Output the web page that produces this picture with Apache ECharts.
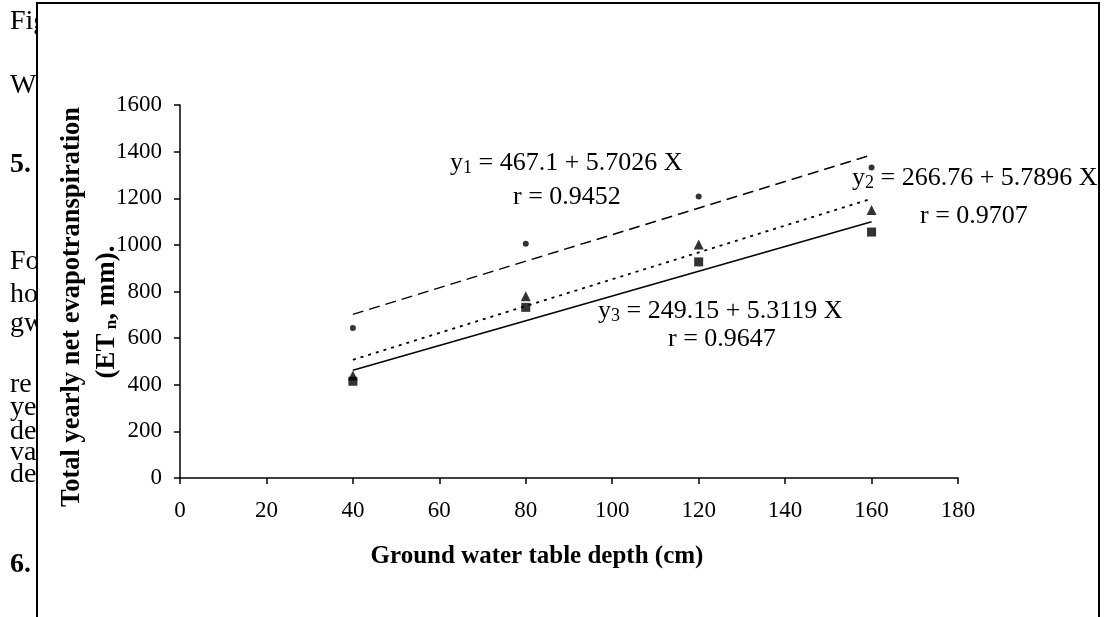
<!DOCTYPE html>
<html>
<head>
<meta charset="utf-8">
<script src="https://cdn.jsdelivr.net/npm/echarts@6/dist/echarts.min.js"></script>
<style>
  html, body { margin: 0; padding: 0; background: #fff; }
  #main { width: 1104px; height: 617px; }
</style>
</head>
<body>
<div id="main"></div>
<script>
// depth (cm)
var depths = [40, 80, 120, 160];
// measured ETn (mm) for the three treatments
var etCircle = [643, 1005, 1207, 1332];
var etTriangle = [440, 780, 1002, 1150];
var etSquare = [415, 732, 927, 1055];
// fitted lines, end points
var trendX = [40, 160];
var trend1 = [702, 1386];
var trend2 = [507, 1198];
var trend3 = [462, 1099];
var xTicks = [0, 20, 40, 60, 80, 100, 120, 140, 160, 180];
var yTicks = [0, 200, 400, 600, 800, 1000, 1200, 1400, 1600];

function pairs(xs, ys) {
  return xs.map(function (x, i) { return [x, ys[i]]; });
}

var serif = 'Liberation Serif';
var chart = echarts.init(document.getElementById('main'));

// bits of the page text that sit behind the figure frame
var pageBits = [
  ['Fig', 23, false], ['Wh', 87, false], ['5.', 166, true],
  ['Fo', 263, false], ['ho', 296, false], ['gw', 325, false],
  ['re', 386, false], ['ye', 409, false], ['de', 433, false],
  ['va', 454, false], ['de', 476, false], ['6.', 566, true]
];
var graphics = pageBits.map(function (b) {
  return {
    type: 'text', left: 10, top: b[1] - 15, z: 0,
    style: { text: b[0], font: (b[2] ? 'bold ' : '') + '28px "' + serif + '"', fill: '#000' }
  };
});
graphics.push({
  type: 'rect', z: 1,
  shape: { x: 37, y: 3, width: 1062, height: 640 },
  style: { fill: '#fff', stroke: '#000', lineWidth: 2 }
});

function eqText(x, y, sub, rest) {
  return {
    type: 'text', x: x, y: y, z: 20,
    style: {
      text: '{a|y}{s|' + sub + '}{a|' + rest + '}',
      fill: '#000',
      verticalAlign: 'middle',
      rich: {
        a: { fontFamily: serif, fontSize: 26, color: '#000' },
        s: { fontFamily: serif, fontSize: 18, color: '#000', padding: [10, 0, 0, 0] }
      }
    }
  };
}
function plain(x, y, txt) {
  return {
    type: 'text', x: x, y: y, z: 20,
    style: { text: txt, font: '26px "' + serif + '"', fill: '#000', verticalAlign: 'middle' }
  };
}
graphics.push(eqText(450, 163, '1', ' = 467.1 + 5.7026 X'));
graphics.push(plain(513, 197, 'r = 0.9452'));
graphics.push(eqText(852, 178, '2', ' = 266.76 + 5.7896 X'));
graphics.push(plain(920, 216, 'r = 0.9707'));
graphics.push(eqText(598, 311, '3', ' = 249.15 + 5.3119 X'));
graphics.push(plain(668, 339, 'r = 0.9647'));

// y axis title, two rotated lines
graphics.push({
  type: 'text', x: 72, y: 307, rotation: Math.PI / 2, z: 20,
  style: {
    text: 'Total yearly net evapotranspiration',
    font: 'bold 26.5px "' + serif + '"', fill: '#000',
    align: 'center', verticalAlign: 'middle'
  }
});
graphics.push({
  type: 'text', x: 107, y: 312, rotation: Math.PI / 2, z: 20,
  style: {
    text: '{b|(ET}{s| n}{b|, mm).}',
    align: 'center', verticalAlign: 'middle',
    rich: {
      b: { fontFamily: serif, fontWeight: 'bold', fontSize: 27, color: '#000' },
      s: { fontFamily: serif, fontWeight: 'bold', fontSize: 17, color: '#000', padding: [10, 0, 0, 0] }
    }
  }
});
graphics.push({
  type: 'text', x: 537, y: 557, z: 20,
  style: {
    text: 'Ground water table depth (cm)',
    font: 'bold 25px "' + serif + '"', fill: '#000',
    align: 'center', verticalAlign: 'middle'
  }
});

var axisCommon = {
  type: 'value',
  z: 10,
  axisLine: { show: true, lineStyle: { color: '#000', width: 1.5 } },
  axisTick: { show: true, inside: false, length: 6, lineStyle: { color: '#000', width: 1.5 } },
  splitLine: { show: false },
  axisLabel: { fontFamily: serif, fontSize: 23, color: '#000', formatter: function (v) { return String(v); } }
};

chart.setOption({
  animation: false,
  backgroundColor: '#fff',
  graphic: { elements: graphics },
  grid: { left: 180, right: 146, top: 105, bottom: 139 },
  xAxis: Object.assign({}, axisCommon, {
    min: xTicks[0], max: xTicks[xTicks.length - 1], interval: 20,
    axisLabel: Object.assign({}, axisCommon.axisLabel, { margin: 21 })
  }),
  yAxis: Object.assign({}, axisCommon, {
    min: yTicks[0], max: yTicks[yTicks.length - 1], interval: 200,
    axisLabel: Object.assign({}, axisCommon.axisLabel, { margin: 18 })
  }),
  series: [
    {
      type: 'line', z: 10, data: pairs(trendX, trend1), symbol: 'none',
      lineStyle: { color: '#000', width: 1.5, type: [11, 6] }
    },
    {
      type: 'line', z: 10, data: pairs(trendX, trend2), symbol: 'none',
      lineStyle: { color: '#000', width: 1.8, type: [3, 5] }
    },
    {
      type: 'line', z: 10, data: pairs(trendX, trend3), symbol: 'none',
      lineStyle: { color: '#000', width: 1.5 }
    },
    {
      type: 'scatter', z: 11, data: pairs(depths, etCircle),
      symbol: 'circle', symbolSize: 6, itemStyle: { color: '#000' }
    },
    {
      type: 'scatter', z: 11, data: pairs(depths, etTriangle),
      symbol: 'triangle', symbolSize: 10, itemStyle: { color: '#000' }
    },
    {
      type: 'scatter', z: 11, data: pairs(depths, etSquare),
      symbol: 'rect', symbolSize: 9, itemStyle: { color: '#000' }
    }
  ]
});
</script>
</body>
</html>
